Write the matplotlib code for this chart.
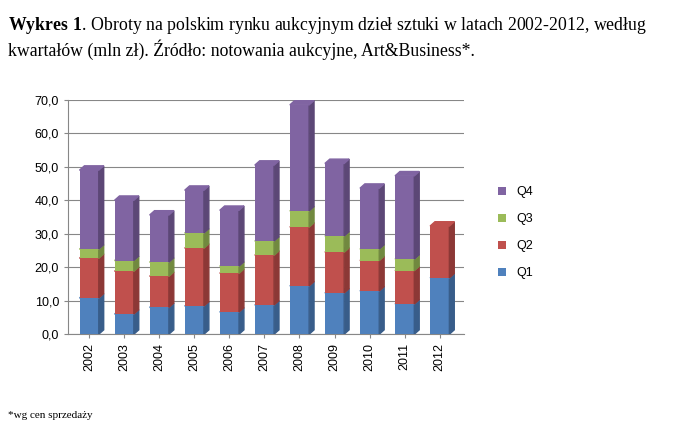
import numpy as np
import matplotlib.pyplot as plt
from matplotlib.patches import Polygon

plt.rcParams["mathtext.fontset"] = "custom"
plt.rcParams["mathtext.rm"] = "Liberation Serif"
plt.rcParams["mathtext.bf"] = "Liberation Serif:bold"

years = ["2002", "2003", "2004", "2005", "2006", "2007", "2008", "2009", "2010", "2011", "2012"]
q1 = [10.8, 6.0, 8.0, 8.4, 6.6, 8.7, 14.4, 12.3, 12.9, 9.0, 16.8]
q2 = [11.9, 12.8, 9.3, 17.3, 11.6, 14.9, 17.6, 12.2, 9.1, 10.0, 15.5]
q3 = [2.7, 3.2, 4.2, 4.5, 2.1, 4.2, 4.8, 4.8, 3.4, 3.4, 0.0]
q4 = [23.6, 18.0, 14.1, 12.8, 16.7, 22.7, 31.7, 21.7, 18.2, 24.9, 0.0]
labels = ["Q1", "Q2", "Q3", "Q4"]
colors = ["#4F81BD", "#C0504D", "#9BBB59", "#8064A2"]
dark = ["#385D8A", "#8C3836", "#71893F", "#5C4776"]

fig = plt.figure(figsize=(6.95, 4.38), dpi=100)
fig.text(0.012, 0.965, r"$\mathbf{Wykres\ 1}$. Obroty na polskim rynku aukcyjnym dzieł sztuki w latach 2002-2012, według",
         family="Liberation Serif", fontsize=12.8, va="top")
fig.text(0.012, 0.91, "kwartałów (mln zł). Źródło: notowania aukcyjne, Art&Business*.",
         family="Liberation Serif", fontsize=12.8, va="top")
fig.text(0.012, 0.045, "*wg cen sprzedaży", family="Liberation Serif", fontsize=8)

ax = fig.add_axes([0.098, 0.237, 0.57, 0.535])
x = np.arange(len(years))
w = 0.55
dx, dy = 0.14, 1.3
bottom = np.zeros(len(years))
series = [q1, q2, q3, q4]
for s, lab, c, d in zip(series, labels, colors, dark):
    vals = np.array(s)
    ax.bar(x, vals, w, bottom=bottom, color=c, label=lab, zorder=3)
    for xi, b, v in zip(x, bottom, vals):
        if v <= 0:
            continue
        r = xi + w / 2
        ax.add_patch(Polygon([(r, b), (r + dx, b + dy), (r + dx, b + v + dy), (r, b + v)],
                             closed=True, color=d, zorder=3))
        ax.add_patch(Polygon([(xi - w / 2, b + v), (xi - w / 2 + dx, b + v + dy),
                              (r + dx, b + v + dy), (r, b + v)], closed=True, color=c, zorder=3))
    bottom += vals

ax.set_ylim(0, 70)
ax.set_xlim(-0.6, len(years) - 0.3)
ax.set_yticks(np.arange(0, 71, 10))
ax.set_yticklabels([f"{v:.1f}".replace(".", ",") for v in np.arange(0, 71, 10)],
                   family="Liberation Sans", fontsize=9)
ax.set_xticks(x)
ax.set_xticklabels(years, rotation=90, family="Liberation Sans", fontsize=9)
ax.yaxis.grid(True, color="#878787", lw=0.8, zorder=0)
for sp in ["top", "right"]:
    ax.spines[sp].set_visible(False)
ax.spines["left"].set_color("#878787")
ax.spines["bottom"].set_color("#878787")
ax.tick_params(length=3, color="#878787")

h, l = ax.get_legend_handles_labels()
fig.legend(h[::-1], l[::-1], loc="upper left", bbox_to_anchor=(0.7, 0.6), frameon=False,
           prop={"family": "Liberation Sans", "size": 9}, handlelength=0.7, handleheight=0.7,
           labelspacing=1.2)
fig.savefig("out.png", dpi=100)
